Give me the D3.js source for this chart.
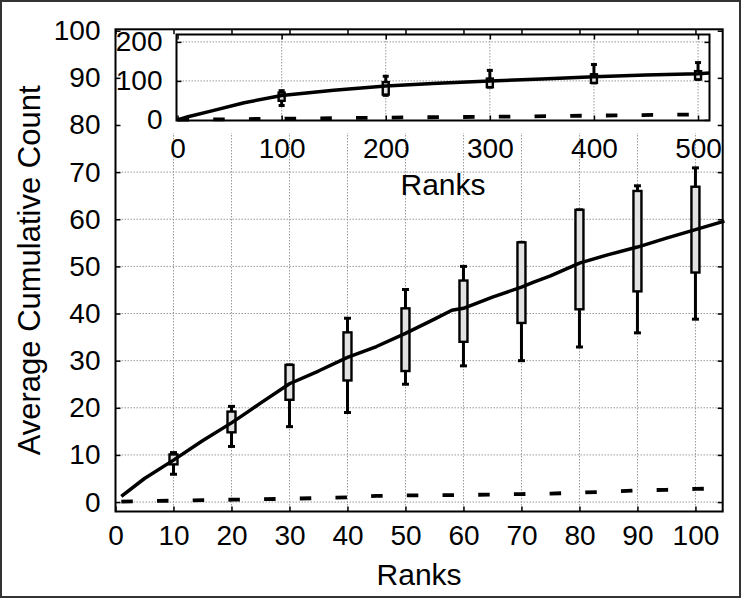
<!DOCTYPE html>
<html>
<head>
<meta charset="utf-8">
<script src="https://cdn.jsdelivr.net/npm/d3@7/dist/d3.min.js"></script>
<style>
  body { margin: 0; background: #fff; }
  text { font-family: "Liberation Sans", Arial, Helvetica, sans-serif; fill: #000; }
</style>
</head>
<body>
<svg id="chart" width="741" height="598"></svg>
<script>
// ---- main panel: box plots every 10 ranks ----
const ranks = [10, 20, 30, 40, 50, 60, 70, 80, 90, 100];
const whiskerLow = [5.9, 11.8, 16.0, 19.0, 25.0, 28.9, 30.0, 32.9, 35.9, 38.8];
const boxLow = [8.0, 14.8, 21.7, 25.8, 27.8, 34.0, 38.0, 40.9, 44.7, 48.7];
const boxHigh = [10.1, 19.2, 29.1, 36.0, 41.1, 47.0, 55.1, 62.0, 66.0, 66.9];
const whiskerHigh = [10.5, 20.3, 29.1, 39.0, 45.1, 50.0, 55.1, 62.0, 67.1, 70.9];

// average curve (solid) and baseline curve (dashed)
const meanRanks = [1, 5, 10, 15, 20, 23, 25, 30, 35, 40, 45, 50, 55, 58, 60, 65, 70, 72, 75, 80, 85, 90, 95, 100, 105];
const meanCount = [1.2, 5.0, 8.9, 13.0, 16.8, 19.3, 21.0, 25.1, 27.8, 30.7, 33.0, 35.8, 38.8, 40.7, 41.1, 43.5, 45.6, 46.6, 48.0, 50.7, 52.5, 54.1, 56.0, 57.8, 59.6];
const baseRanks = [1, 10, 20, 30, 40, 45, 50, 60, 65, 70, 75, 80, 85, 90, 95, 100, 105];
const baseCount = [0.1, 0.3, 0.5, 0.7, 1.0, 1.3, 1.4, 1.5, 1.6, 1.7, 1.8, 2.0, 2.2, 2.5, 2.6, 2.8, 2.9];

// ---- inset panel: box plots every 100 ranks ----
const insetRanks = [100, 200, 300, 400, 500];
const insetWhiskerLow = [37, 63, 84, 95, 104];
const insetBoxLow = [49, 65, 84, 95, 104];
const insetBoxHigh = [70, 97, 106, 117, 125];
const insetWhiskerHigh = [75, 112, 127, 142, 147];
const insetMeanRanks = [0, 10, 32, 64, 100, 150, 200, 250, 300, 350, 400, 450, 500, 511];
const insetMeanCount = [0, 8, 22.6, 44, 62.8, 76, 86.7, 94, 99.5, 105, 110.8, 115, 118.5, 120];
const insetBaseRanks = [0, 100, 200, 300, 400, 500, 511];
const insetBaseCount = [0.5, 3, 6, 8, 11, 14, 14.5];

// ticks
const xTicks = [0, 10, 20, 30, 40, 50, 60, 70, 80, 90, 100];
const yTicks = [0, 10, 20, 30, 40, 50, 60, 70, 80, 90, 100];
const xGrid = [10, 20, 30, 40, 50, 60, 70, 80, 90, 100];
const yGrid = [0, 10, 20, 30, 40, 50, 60, 70, 80];
const insetXTicks = [0, 100, 200, 300, 400, 500];
const insetYTicks = [0, 100, 200];
const insetXGrid = [100, 200, 300, 400, 500];
const insetYGrid = [100, 200];

const svg = d3.select('#chart');
const fontTick = 28, fontTitle = 30;

svg.append('rect').attr('x', 1).attr('y', 1).attr('width', 739).attr('height', 596)
  .attr('fill', '#fff').attr('stroke', '#333').attr('stroke-width', 2);

const x = d3.scaleLinear().domain([0, 104.7]).range([115.5, 722.7]);
const y = d3.scaleLinear().domain([-2.0, 100.3]).range([511.5, 29.3]);
const ix = d3.scaleLinear().domain([-1, 511]).range([176.5, 709.5]);
const iy = d3.scaleLinear().domain([-1.5, 219]).range([120.5, 34.5]);

function grid(g, xs, ys, xv, yv) {
  const [x0, x1] = xs.range(), [y0, y1] = ys.range();
  g.selectAll('line.gx').data(xv).enter().append('line').attr('class', 'gx')
    .attr('x1', d => xs(d)).attr('x2', d => xs(d)).attr('y1', y0).attr('y2', y1);
  g.selectAll('line.gy').data(yv).enter().append('line').attr('class', 'gy')
    .attr('x1', x0).attr('x2', x1).attr('y1', d => ys(d)).attr('y2', d => ys(d));
  g.selectAll('line').attr('stroke', '#999').attr('stroke-width', 1).attr('stroke-dasharray', '1.5,1.5');
}

function frame(g, xs, ys, xt, yt, pad) {
  const [x0, x1] = xs.range(), [y0, y1] = ys.range();
  const ax = [
    [d3.axisBottom(xs).tickValues(xt).tickSize(-5).tickPadding(pad.x), `translate(0,${y0})`],
    [d3.axisTop(xs).tickValues(xt).tickSize(-5).tickFormat(''), `translate(0,${y1})`],
    [d3.axisLeft(ys).tickValues(yt).tickSize(-5).tickPadding(pad.y), `translate(${x0},0)`],
    [d3.axisRight(ys).tickValues(yt).tickSize(-5).tickFormat(''), `translate(${x1},0)`]
  ];
  ax.forEach(([a, t]) => {
    const s = g.append('g').attr('transform', t).call(a);
    s.select('.domain').remove();
    s.selectAll('.tick line').attr('stroke', '#000').attr('stroke-width', 1.5);
    s.selectAll('.tick text').attr('font-size', fontTick).attr('font-family', null).attr('fill', '#000');
  });
  g.append('rect').attr('x', x0).attr('y', y1).attr('width', x1 - x0).attr('height', y0 - y1)
    .attr('fill', 'none').attr('stroke', '#000').attr('stroke-width', 2);
}

function boxes(g, xs, ys, xv, wl, bl, bh, wh, bw, cw) {
  const b = g.selectAll('g.box').data(xv).enter().append('g').attr('class', 'box');
  b.append('line').attr('x1', d => xs(d)).attr('x2', d => xs(d))
    .attr('y1', (d, i) => ys(wl[i])).attr('y2', (d, i) => ys(wh[i]))
    .attr('stroke', '#000').attr('stroke-width', 3);
  [wl, wh].forEach(arr => {
    b.append('line').attr('x1', d => xs(d) - cw / 2).attr('x2', d => xs(d) + cw / 2)
      .attr('y1', (d, i) => ys(arr[i])).attr('y2', (d, i) => ys(arr[i]))
      .attr('stroke', '#000').attr('stroke-width', 3);
  });
  b.append('rect').attr('x', d => xs(d) - bw / 2).attr('width', bw)
    .attr('y', (d, i) => ys(bh[i])).attr('height', (d, i) => ys(bl[i]) - ys(bh[i]))
    .attr('fill', '#e2e2e2').attr('stroke', '#000').attr('stroke-width', 2.4);
}

function curves(g, xs, ys, mr, mc, br, bc) {
  const line = d3.line().x(d => xs(d[0])).y(d => ys(d[1]));
  g.append('path').datum(br.map((r, i) => [r, bc[i]])).attr('d', line)
    .attr('fill', 'none').attr('stroke', '#000').attr('stroke-width', 3.8)
    .attr('stroke-dasharray', '11.5,24.2');
  g.append('path').datum(mr.map((r, i) => [r, mc[i]])).attr('d', line)
    .attr('fill', 'none').attr('stroke', '#000').attr('stroke-width', 3.5).attr('stroke-linejoin', 'round');
}

// main panel
const main = svg.append('g');
grid(main.append('g'), x, y, xGrid, yGrid);
boxes(main, x, y, ranks, whiskerLow, boxLow, boxHigh, whiskerHigh, 8, 7);
curves(main, x, y, meanRanks, meanCount, baseRanks, baseCount);

// white area behind the inset
main.append('rect').attr('x', 116.5).attr('y', 30.3).attr('width', 605.2).attr('height', 102.7).attr('fill', '#fff');

frame(main, x, y, xTicks, yTicks, { x: 14, y: 15 });
main.append('text').attr('x', (x.range()[0] + x.range()[1]) / 2).attr('y', 585)
  .attr('text-anchor', 'middle').attr('font-size', fontTitle).text('Ranks');
main.append('text').attr('transform', `translate(40,${(y.range()[0] + y.range()[1]) / 2}) rotate(-90)`)
  .attr('text-anchor', 'middle').attr('font-size', 31).text('Average Cumulative Count');

// inset panel
const inset = svg.append('g');
inset.append('rect').attr('x', 176.5).attr('y', 34.5).attr('width', 533).attr('height', 86).attr('fill', '#fff');
grid(inset.append('g'), ix, iy, insetXGrid, insetYGrid);
boxes(inset, ix, iy, insetRanks, insetWhiskerLow, insetBoxLow, insetBoxHigh, insetWhiskerHigh, 6, 6);
curves(inset, ix, iy, insetMeanRanks, insetMeanCount, insetBaseRanks, insetBaseCount);
frame(inset, ix, iy, insetXTicks, insetYTicks, { x: 18, y: 14 });
inset.append('text').attr('x', (ix.range()[0] + ix.range()[1]) / 2).attr('y', 195)
  .attr('text-anchor', 'middle').attr('font-size', fontTitle).text('Ranks');
</script>
</body>
</html>
